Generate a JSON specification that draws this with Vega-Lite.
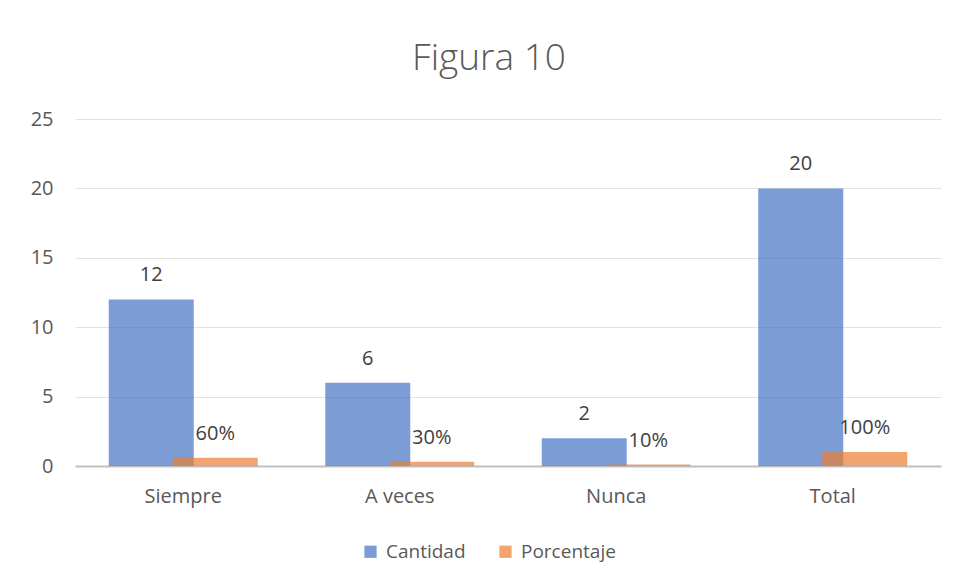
{
  "$schema": "https://vega.github.io/schema/vega-lite/v6.json",
  "autosize": "none",
  "width": 866,
  "height": 347,
  "padding": {"left": 75, "top": 119, "right": 16, "bottom": 116},
  "background": "white",
  "title": {
    "text": "Figura 10",
    "font": "Open Sans",
    "fontSize": 37,
    "fontWeight": 300,
    "color": "#595959",
    "anchor": "middle",
    "dx": -19,
    "baseline": "alphabetic",
    "offset": 2
  },
  "data": {
    "values": [
      {"categoria": "Siempre", "serie": "Cantidad", "valor": 12},
      {"categoria": "A veces", "serie": "Cantidad", "valor": 6},
      {"categoria": "Nunca", "serie": "Cantidad", "valor": 2},
      {"categoria": "Total", "serie": "Cantidad", "valor": 20},
      {"categoria": "Siempre", "serie": "Porcentaje", "valor": 0.6},
      {"categoria": "A veces", "serie": "Porcentaje", "valor": 0.3},
      {"categoria": "Nunca", "serie": "Porcentaje", "valor": 0.1},
      {"categoria": "Total", "serie": "Porcentaje", "valor": 1}
    ]
  },
  "encoding": {
    "x": {
      "field": "categoria",
      "type": "nominal",
      "sort": ["Siempre", "A veces", "Nunca", "Total"],
      "scale": {"paddingInner": 0, "paddingOuter": 0},
      "axis": {
        "title": null,
        "labelAngle": 0,
        "labelFont": "Open Sans",
        "labelFontSize": 20,
        "labelColor": "#595959",
        "labelPadding": 20,
        "ticks": false,
        "domainColor": "#c0c0c0",
        "domainWidth": 2,
        "grid": false
      }
    },
    "y": {
      "field": "valor",
      "type": "quantitative",
      "scale": {"domain": [0, 25], "nice": false},
      "axis": {
        "title": null,
        "values": [0, 5, 10, 15, 20, 25],
        "labelFont": "Open Sans",
        "labelFontSize": 20,
        "labelColor": "#595959",
        "labelPadding": 22,
        "ticks": false,
        "domain": false,
        "gridColor": "#e3e3e3",
        "gridWidth": 1
      }
    }
  },
  "layer": [
    {
      "transform": [{"filter": "datum.serie === 'Cantidad'"}],
      "mark": {"type": "bar", "width": 85, "xOffset": -32, "opacity": 0.7},
      "encoding": {
        "color": {
          "field": "serie",
          "type": "nominal",
          "scale": {"domain": ["Cantidad", "Porcentaje"], "range": ["#4472C4", "#ED7D31"]},
          "legend": {
            "title": null,
            "orient": "none",
            "direction": "horizontal",
            "legendX": 286,
            "legendY": 423,
            "symbolType": "square",
            "symbolSize": 150,
            "symbolStrokeWidth": 0,
            "symbolOpacity": 0.7,
            "labelFont": "Open Sans",
            "labelFontSize": 19,
            "labelColor": "#595959",
            "labelOffset": 6,
            "columnPadding": 30
          }
        }
      }
    },
    {
      "transform": [{"filter": "datum.serie === 'Porcentaje'"}],
      "mark": {"type": "bar", "width": 85, "xOffset": 32, "opacity": 0.7},
      "encoding": {
        "color": {"field": "serie", "type": "nominal"}
      }
    },
    {
      "transform": [{"filter": "datum.serie === 'Cantidad'"}],
      "mark": {"type": "text", "xOffset": -32, "dy": -18, "baseline": "alphabetic", "font": "Open Sans", "fontSize": 20, "color": "#404040"},
      "encoding": {
        "text": {"field": "valor", "type": "quantitative", "format": "d"}
      }
    },
    {
      "transform": [{"filter": "datum.serie === 'Porcentaje'"}],
      "mark": {"type": "text", "xOffset": 32, "dy": -18, "baseline": "alphabetic", "font": "Open Sans", "fontSize": 20, "color": "#404040"},
      "encoding": {
        "text": {"field": "valor", "type": "quantitative", "format": ".0%"}
      }
    }
  ],
  "config": {
    "view": {"stroke": null}
  }
}
